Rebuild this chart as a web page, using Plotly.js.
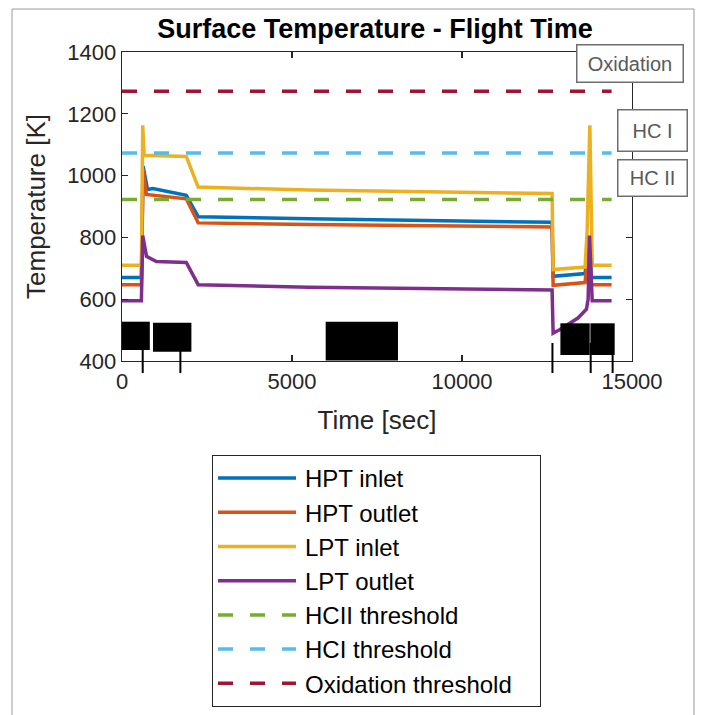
<!DOCTYPE html>
<html>
<head>
<meta charset="utf-8">
<script src="https://cdn.plot.ly/plotly-3.0.1.min.js"></script>
<style>
  html, body { margin: 0; padding: 0; background: #ffffff; }
  #chart { width: 702px; height: 715px; }
</style>
</head>
<body>
<div id="chart"></div>
<script>
// ---- Data ----
const hptInletTime  = [0, 570, 620, 750, 910, 1890, 2240, 5500, 12650, 12680, 13620, 13740, 13800, 14400];
const hptInletTemp  = [670, 670, 1031, 955, 958, 936, 867, 860, 849, 674, 683, 800, 670, 670];

const hptOutletTime = [0, 570, 620, 720, 1890, 2240, 5500, 12650, 12680, 13620, 13740, 13800, 14400];
const hptOutletTemp = [647, 647, 1020, 939, 925, 847, 842, 834, 645, 654, 790, 647, 647];

const lptInletTime  = [0, 570, 610, 650, 1890, 2240, 5500, 12650, 12680, 13620, 13680, 13760, 13830, 14400];
const lptInletTemp  = [710, 710, 1163, 1066, 1062, 963, 953, 942, 696, 704, 820, 1163, 710, 710];

const lptOutletTime = [0, 570, 610, 720, 1010, 1890, 2240, 5500, 12650, 12680, 12870, 13170, 13410, 13560, 13660, 13710, 13750, 13830, 14400];
const lptOutletTemp = [595, 595, 806, 739, 722, 719, 647, 639, 630, 490, 501, 522, 539, 556, 568, 600, 806, 595, 595];

const thresholdTime = [0, 14400];
const hc2Threshold  = [923, 923];
const hc1Threshold  = [1073, 1073];
const oxThreshold   = [1273, 1273];

const seriesNames = ["HPT inlet", "HPT outlet", "LPT inlet", "LPT outlet",
                     "HCII threshold", "HCI threshold", "Oxidation threshold"];
const xTicks = [0, 5000, 10000, 15000];
const yTicks = [400, 600, 800, 1000, 1200, 1400];
const eventTimes = [609, 1717, 12660, 13785, 14430];
const thresholdLabels = ["Oxidation", "HC I", "HC II"];

// ---- Styling ----
const colors = ["#0072BD", "#D95319", "#EDB120", "#7E2F8E", "#77AC30", "#4DBEEE", "#A2142F"];
const FONT = "Liberation Sans, Arial, Helvetica, sans-serif";
const LW = 3.5;
const DASH = "15px,17px";

function solid(x, y, i) {
  return { type: "scatter", mode: "lines", x: x, y: y, name: seriesNames[i],
           legendgroup: "g" + i,
           line: { color: colors[i], width: LW }, hoverinfo: "skip" };
}
function dashed(x, y, i) {
  return { type: "scatter", mode: "lines", x: x, y: y, name: seriesNames[i],
           legendgroup: "g" + i,
           line: { color: colors[i], width: LW, dash: DASH }, hoverinfo: "skip" };
}

const traces = [
  solid(hptInletTime, hptInletTemp, 0),
  solid(hptOutletTime, hptOutletTemp, 1),
  solid(lptInletTime, lptInletTemp, 2),
  solid(lptOutletTime, lptOutletTemp, 3),
  dashed(thresholdTime, hc2Threshold, 4),
  dashed(thresholdTime, hc1Threshold, 5),
  dashed(thresholdTime, oxThreshold, 6)
];

// plot area in pixels: x 122..632, y 52..361
const PL = 122, PR = 632, PT = 52, PB = 361;
const px2paperX = p => (p - PL) / (PR - PL);
const px2paperY = p => (PB - p) / (PB - PT);

const shapes = [];
// outer figure frame
shapes.push({ type: "rect", xref: "paper", yref: "paper",
  x0: px2paperX(12), x1: px2paperX(694), y0: px2paperY(740), y1: px2paperY(9),
  line: { color: "#9a9a9a", width: 1 }, fillcolor: "rgba(0,0,0,0)", layer: "below" });
// event marker lines
eventTimes.forEach(t => shapes.push({ type: "line", xref: "x", yref: "paper",
  x0: t, x1: t, y0: px2paperY(373), y1: px2paperY(343),
  line: { color: "#000000", width: 2 }, layer: "above" }));
// redacted label boxes (black)
const redactBoxes = [
  [-65, 818, 350, 321.7],
  [912, 2041, 351.7, 322.7],
  [5991, 8117, 360.5, 321.7],
  [12894, 13756, 355, 323.3],
  [13776, 14491, 355, 323.3]
];
redactBoxes.forEach(b => shapes.push({ type: "rect", xref: "x", yref: "paper",
  x0: b[0], x1: b[1], y0: px2paperY(b[2]), y1: px2paperY(b[3]),
  line: { width: 0 }, fillcolor: "#000000", layer: "above" }));

const labelBox = (text, cx, cy, w, h) => ({
  text: text, xref: "paper", yref: "paper",
  x: px2paperX(cx), y: px2paperY(cy), xanchor: "center", yanchor: "middle",
  showarrow: false, width: w, height: h, align: "center", valign: "middle",
  bgcolor: "#ffffff", bordercolor: "#6e6e6e", borderwidth: 1.5, borderpad: 2,
  font: { family: FONT, size: 20, color: "#595959" }
});

const layout = {
  width: 702, height: 715,
  margin: { l: PL, r: 702 - PR, t: PT, b: 715 - PB, pad: 0, autoexpand: false },
  paper_bgcolor: "#ffffff", plot_bgcolor: "#ffffff",
  font: { family: FONT, color: "#262626" },
  title: { text: "<b>Surface Temperature - Flight Time</b>",
           font: { family: FONT, size: 27, color: "#000000" },
           x: px2paperX(375), xref: "paper", xanchor: "center",
           y: 1 - 29 / 715, yref: "container", yanchor: "middle" },
  showlegend: true,
  legend: {
    x: px2paperX(212), y: px2paperY(455), xanchor: "left", yanchor: "top",
    bgcolor: "#ffffff", bordercolor: "#262626", borderwidth: 1,
    font: { family: FONT, size: 24, color: "#000000" },
    itemwidth: 82, tracegroupgap: 4, traceorder: "normal"
  },
  xaxis: {
    range: [0, 15000], tickvals: xTicks, ticktext: xTicks.map(String),
    showgrid: false, zeroline: false, showline: true, mirror: "ticks",
    linecolor: "#262626", linewidth: 1.3, ticks: "inside", ticklen: 6,
    tickwidth: 1.3, tickcolor: "#262626",
    tickfont: { family: FONT, size: 22, color: "#262626" },
    title: { text: "Time [sec]", font: { family: FONT, size: 26, color: "#262626" }, standoff: 18 },
    automargin: false
  },
  yaxis: {
    range: [400, 1400], tickvals: yTicks, ticktext: yTicks.map(String),
    showgrid: false, zeroline: false, showline: true, mirror: "ticks",
    linecolor: "#262626", linewidth: 1.3, ticks: "inside", ticklen: 6,
    tickwidth: 1.3, tickcolor: "#262626",
    tickfont: { family: FONT, size: 22, color: "#262626" },
    title: { text: "Temperature [K]", font: { family: FONT, size: 26, color: "#262626" }, standoff: 14 },
    automargin: false
  },
  shapes: shapes,
  annotations: [
    labelBox(thresholdLabels[0], 629.5, 63, 101, 32),
    labelBox(thresholdLabels[1], 652.3, 130.5, 64, 36),
    labelBox(thresholdLabels[2], 652.3, 178, 64, 31)
  ]
};

Plotly.newPlot("chart", traces, layout, { displayModeBar: false, staticPlot: true }).then(gd => {
  // lengthen legend line samples and widen the legend box to match the reference
  gd.querySelectorAll(".legend .traces path.js-line").forEach(p => p.setAttribute("d", "M5,0h78"));
  const bg = gd.querySelector(".legend rect.bg");
  if (bg) {
    const w = parseFloat(bg.getAttribute("width"));
    if (w < 328) bg.setAttribute("width", 328);
  }
});
</script>
</body>
</html>
